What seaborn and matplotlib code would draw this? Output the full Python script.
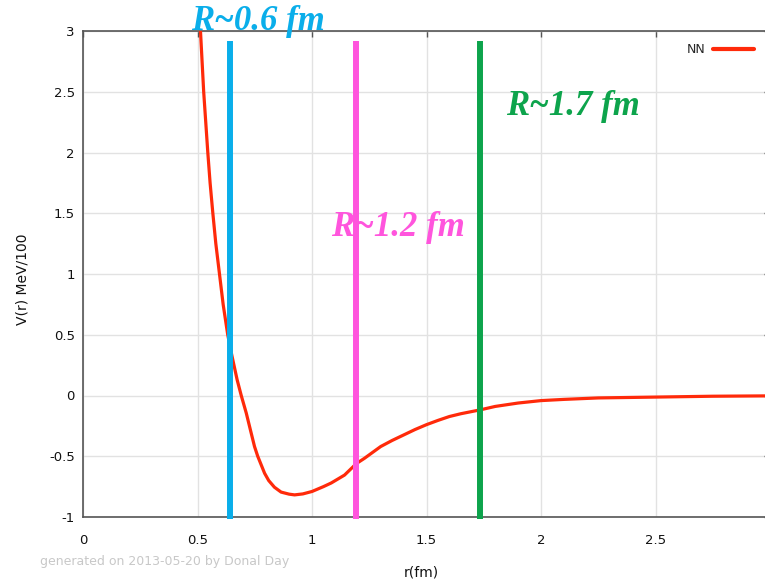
import matplotlib
matplotlib.use("Agg")
import matplotlib.pyplot as plt
import seaborn as sns
import pandas as pd

# NN potential V(r), in units of 100 MeV, sampled along r (fm)
r_fm = [0.513, 0.520, 0.527, 0.536, 0.545, 0.555, 0.567, 0.580, 0.596, 0.612,
        0.632, 0.650, 0.673, 0.691, 0.713, 0.731, 0.749, 0.763, 0.793, 0.811,
        0.836, 0.865, 0.900, 0.924, 0.960, 1.000, 1.050, 1.084, 1.142, 1.194,
        1.229, 1.300, 1.350, 1.400, 1.450, 1.500, 1.550, 1.600, 1.650, 1.735,
        1.800, 1.900, 2.000, 2.100, 2.250, 2.500, 2.750, 3.000]
v_r = [3.0, 2.75, 2.5, 2.25, 2.0, 1.75, 1.5, 1.25, 1.0, 0.75,
       0.5, 0.33, 0.13, 0.0, -0.145, -0.283, -0.42, -0.5, -0.64, -0.70,
       -0.755, -0.795, -0.812, -0.818, -0.81, -0.79, -0.75, -0.72, -0.655, -0.56,
       -0.517, -0.42, -0.37, -0.325, -0.28, -0.24, -0.205, -0.173, -0.150, -0.118,
       -0.09, -0.062, -0.042, -0.032, -0.02, -0.013, -0.006, -0.003]

# Characteristic distances
marker_r = [0.64, 1.194, 1.735]
marker_labels = ["R~0.6 fm", "R~1.2 fm", "R~1.7 fm"]
marker_colors = ["#0AAEEA", "#FF55DD", "#0DA44C"]
label_pos = [(0.766, 3.012), (1.376, 1.31), (2.139, 2.306)]

x_ticks = [0, 0.5, 1, 1.5, 2, 2.5]
y_ticks = [-1, -0.5, 0, 0.5, 1, 1.5, 2, 2.5, 3]

sns.set_theme(style="white")
plt.rcParams["font.family"] = ["DejaVu Sans"]

fig = plt.figure(figsize=(7.65, 5.83), dpi=100)
ax = fig.add_axes([83 / 765, 66 / 583, 687 / 765, 486 / 583])

df = pd.DataFrame({"r": r_fm, "V": v_r})
sns.lineplot(data=df, x="r", y="V", ax=ax, color="#FF2A0A", lw=2.3,
             sort=False, label="NN", zorder=3, solid_joinstyle="round",
             solid_capstyle="round")

for xr, col in zip(marker_r, marker_colors):
    ax.vlines(xr, -1.02, 2.92, colors=col, lw=4.3, zorder=4, clip_on=False)

for (tx, ty), txt, col in zip(label_pos, marker_labels, marker_colors):
    ax.text(tx, ty, txt, color=col, fontsize=25, fontweight="bold",
            fontstyle="italic", family="Liberation Serif",
            ha="center", va="baseline", zorder=5, clip_on=False)

ax.set_xlim(0, 3)
ax.set_ylim(-1, 3)
ax.set_xticks(x_ticks)
ax.set_xticklabels(["0", "0.5", "1", "1.5", "2", "2.5"])
ax.set_yticks(y_ticks)
ax.set_yticklabels(["-1", "-0.5", "0", "0.5", "1", "1.5", "2", "2.5", "3"])
ax.grid(True, color="#E2E2E2", lw=1.0)
ax.set_axisbelow(True)
for s in ax.spines.values():
    s.set_color("#555555")
    s.set_linewidth(1.2)
ax.tick_params(axis="both", direction="in", length=4, width=1, color="#555555",
               top=True, right=True, labelsize=9.5, labelcolor="#111111")
ax.tick_params(axis="x", pad=12)
ax.tick_params(axis="y", pad=6)

ax.set_xlabel("r(fm)", fontsize=10, color="#111111")
ax.set_ylabel("V(r) MeV/100", fontsize=10, color="#111111")
ax.xaxis.set_label_coords(0.492, -0.100)
ax.yaxis.set_label_coords(-0.078, 0.49)

leg = ax.legend(loc="upper right", bbox_to_anchor=(754 / 765, 1 - 43 / 583),
                bbox_transform=fig.transFigure, frameon=False, markerfirst=False,
                fontsize=9, handlelength=3.3, handletextpad=0.6,
                borderpad=0, borderaxespad=0)
for h in leg.get_lines():
    h.set_linewidth(3)

fig.text(40 / 765, 1 - 561 / 583, "generated on 2013-05-20 by Donal Day",
         color="#C8C8C8", fontsize=9, ha="left", va="center")

fig.savefig("out.png", dpi=100)
